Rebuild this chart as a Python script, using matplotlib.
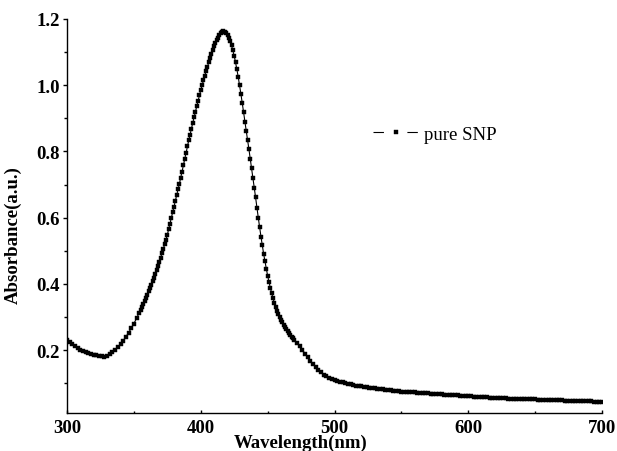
import numpy as np
import matplotlib

matplotlib.use('agg')
import matplotlib.pyplot as plt
import matplotlib.ticker as plticker

plt.rcParams['font.family'] = ['Liberation Serif', 'DejaVu Serif']

# UV-vis spectrum (3 wavelength segments)
wl_a = np.arange(300, 355, 2)    # 300..354, every 2 nm
abs_a = [0.231, 0.224, 0.218, 0.212, 0.206, 0.201, 0.197, 0.194, 0.191, 0.188,
         0.186, 0.184, 0.182, 0.181, 0.180, 0.182, 0.187, 0.193, 0.200, 0.208,
         0.217, 0.228, 0.240, 0.252, 0.266, 0.280, 0.296, 0.313]

wl_b = np.arange(355, 471, 1)    # 355..470, every 1 nm (plasmon band)
abs_b = [0.322, 0.331, 0.340, 0.349, 0.358, 0.367, 0.377, 0.387, 0.397, 0.408,
         0.419, 0.430, 0.442, 0.454, 0.466, 0.479, 0.492, 0.505, 0.519, 0.533,
         0.548, 0.565, 0.582, 0.599, 0.616, 0.633, 0.650, 0.667, 0.685, 0.702,
         0.720, 0.739, 0.758, 0.777, 0.796, 0.815, 0.833, 0.851, 0.869, 0.886,
         0.903, 0.920, 0.937, 0.953, 0.969, 0.985, 1.000, 1.015, 1.029, 1.043,
         1.056, 1.069, 1.082, 1.094, 1.106, 1.117, 1.127, 1.136, 1.144, 1.151,
         1.157, 1.161, 1.163, 1.162, 1.158, 1.152, 1.144, 1.133, 1.120, 1.105,
         1.088, 1.069, 1.048, 1.025, 1.000, 0.974, 0.947, 0.919, 0.890, 0.862,
         0.835, 0.807, 0.778, 0.750, 0.721, 0.691, 0.661, 0.630, 0.600, 0.571,
         0.543, 0.516, 0.491, 0.468, 0.446, 0.425, 0.406, 0.388, 0.372, 0.357,
         0.343, 0.331, 0.319, 0.309, 0.300, 0.292, 0.284, 0.277, 0.270, 0.264,
         0.258, 0.252, 0.246, 0.241, 0.236, 0.231]

wl_c = np.arange(472, 701, 2)    # 472..700, every 2 nm
abs_c = [0.221, 0.211, 0.200, 0.189, 0.178, 0.167, 0.157, 0.148, 0.140, 0.133,
         0.126, 0.121, 0.117, 0.113, 0.110, 0.107, 0.105, 0.103, 0.101, 0.099,
         0.097, 0.095, 0.093, 0.092, 0.090, 0.089, 0.087, 0.086, 0.085, 0.084,
         0.083, 0.082, 0.081, 0.080, 0.079, 0.078, 0.077, 0.076, 0.075, 0.074,
         0.074, 0.073, 0.073, 0.072, 0.072, 0.071, 0.071, 0.070, 0.069, 0.069,
         0.068, 0.067, 0.067, 0.066, 0.066, 0.065, 0.065, 0.064, 0.064, 0.063,
         0.063, 0.062, 0.061, 0.061, 0.060, 0.060, 0.059, 0.059, 0.058, 0.058,
         0.057, 0.057, 0.056, 0.056, 0.055, 0.055, 0.054, 0.054, 0.054, 0.053,
         0.053, 0.053, 0.052, 0.052, 0.052, 0.052, 0.051, 0.051, 0.051, 0.051,
         0.050, 0.050, 0.050, 0.049, 0.049, 0.049, 0.049, 0.048, 0.048, 0.048,
         0.047, 0.047, 0.047, 0.047, 0.046, 0.046, 0.046, 0.045, 0.045, 0.045,
         0.045, 0.044, 0.044, 0.044, 0.044]

wavelength = np.concatenate([wl_a, wl_b, wl_c])
absorbance = np.concatenate([abs_a, abs_b, abs_c])

fig = plt.figure(figsize=(6.17, 4.52), dpi=100)
ax = fig.add_axes([0.1086, 0.0841, 0.8671, 0.8717])

ax.plot(wavelength, absorbance, '-', color='black', lw=0.8,
        marker='s', ms=2.2, mec='black', mfc='black', mew=0.3,
        label='pure SNP')

ax.set_xlim(300, 700)
ax.set_ylim(0.01, 1.2)
ax.xaxis.set_major_locator(plticker.MultipleLocator(100))
ax.xaxis.set_minor_locator(plticker.MultipleLocator(50))
ax.yaxis.set_major_locator(plticker.FixedLocator([0.2, 0.4, 0.6, 0.8, 1.0, 1.2]))
ax.yaxis.set_minor_locator(plticker.FixedLocator([0.1, 0.3, 0.5, 0.7, 0.9, 1.1]))
ax.yaxis.set_major_formatter(plticker.FormatStrFormatter('%.1f'))

for s in ['top', 'right']:
    ax.spines[s].set_visible(False)
for s in ['left', 'bottom']:
    ax.spines[s].set_linewidth(1.0)

ax.tick_params(axis='y', which='major', direction='out', length=3, width=1,
               labelsize=13.5, pad=2)
ax.tick_params(axis='y', which='minor', direction='out', length=2, width=1)
ax.tick_params(axis='x', which='major', direction='in', length=2.5, width=1,
               labelsize=13.5, pad=4)
ax.tick_params(axis='x', which='minor', direction='in', length=1.5, width=1)
for lab in ax.get_xticklabels() + ax.get_yticklabels():
    lab.set_fontweight('bold')

ax.set_xlabel('Wavelength(nm)', fontsize=13.5, fontweight='bold')
ax.set_ylabel('Absorbance(a.u.)', fontsize=13.5, fontweight='bold')
ax.xaxis.set_label_coords(0.437, -0.053)
ax.yaxis.set_label_coords(-0.084, 0.454)

leg = ax.legend(loc='center left', bbox_to_anchor=(0.555, 0.708), frameon=False,
                fontsize=13.5, handlelength=2.4, handletextpad=0.3, borderpad=0,
                numpoints=1, markerscale=1.0)
# legend sample drawn as dash - dot - dash
for ln in leg.get_lines():
    ln.set_linestyle((0, (9.4, 21.1)))
    ln.set_linewidth(0.8)

plt.savefig('out.png', dpi=100)
